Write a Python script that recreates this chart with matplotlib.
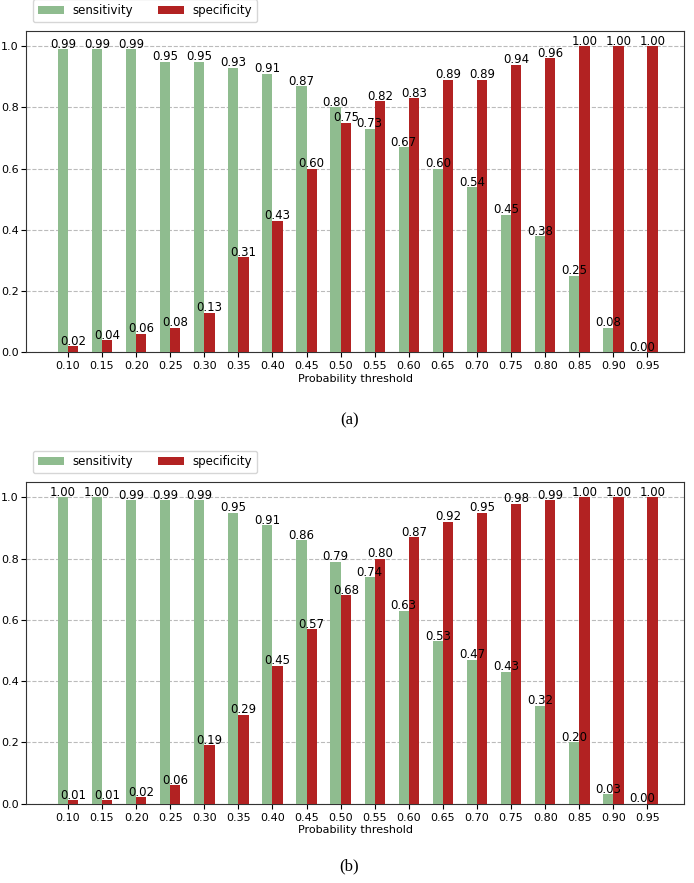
import numpy as np
import matplotlib
matplotlib.use('Agg')
import matplotlib.pyplot as plt

# probability thresholds
thresholds = ['0.10','0.15','0.20','0.25','0.30','0.35','0.40','0.45','0.50',
              '0.55','0.60','0.65','0.70','0.75','0.80','0.85','0.90','0.95']

# panel (a)
sens_a = [0.99,0.99,0.99,0.95,0.95,0.93,0.91,0.87,0.80,0.73,0.67,0.60,0.54,0.45,0.38,0.25,0.08,0.00]
spec_a = [0.02,0.04,0.06,0.08,0.13,0.31,0.43,0.60,0.75,0.82,0.83,0.89,0.89,0.94,0.96,1.00,1.00,1.00]

# panel (b)
sens_b = [1.00,1.00,0.99,0.99,0.99,0.95,0.91,0.86,0.79,0.74,0.63,0.53,0.47,0.43,0.32,0.20,0.03,0.00]
spec_b = [0.01,0.01,0.02,0.06,0.19,0.29,0.45,0.57,0.68,0.80,0.87,0.92,0.95,0.98,0.99,1.00,1.00,1.00]

fig = plt.figure(figsize=(6.94, 8.83), dpi=100)
ax_a = fig.add_axes([0.038, 0.601, 0.948, 0.364])
ax_b = fig.add_axes([0.038, 0.090, 0.948, 0.364])

w = 0.3

def draw(ax, sens, spec):
    x = np.arange(len(thresholds))
    b1 = ax.bar(x - w/2, sens, w, color='darkseagreen', label='sensitivity', zorder=3)
    b2 = ax.bar(x + w/2, spec, w, color='firebrick', label='specificity', zorder=3)
    for bars in (b1, b2):
        for r in bars:
            h = r.get_height()
            ax.text(r.get_x() + r.get_width()/2, h - 0.005, '{:.2f}'.format(h),
                    ha='center', va='bottom', fontsize=8.5, zorder=4)
    ax.set_xticks(x)
    ax.set_xticklabels(thresholds, fontsize=8)
    ax.set_xlim(-1.22, 18.08)
    ax.set_ylim(0, 1.05)
    ax.set_yticks([0.0, 0.2, 0.4, 0.6, 0.8, 1.0])
    ax.tick_params(axis='y', labelsize=8, pad=2)
    ax.tick_params(axis='x', pad=3)
    ax.yaxis.grid(True, linestyle='--', color='#bbbbbb', linewidth=0.8, zorder=0)
    ax.set_axisbelow(True)
    for s in ax.spines.values():
        s.set_color('#333333')
    ax.set_xlabel('Probability threshold', fontsize=8, labelpad=2)
    ax.legend(loc='lower left', bbox_to_anchor=(0.01, 1.028), borderaxespad=0,
              ncol=2, fontsize=8.5, handlelength=2.2, handletextpad=0.75,
              columnspacing=2.1, borderpad=0.4, edgecolor='#cccccc', fancybox=True)

draw(ax_a, sens_a, spec_a)
draw(ax_b, sens_b, spec_b)

fig.text(0.503, 0.524, '(a)', ha='center', va='center', fontsize=12, family='Liberation Serif')
fig.text(0.503, 0.019, '(b)', ha='center', va='center', fontsize=12, family='Liberation Serif')

fig.savefig('out.png', dpi=100)
